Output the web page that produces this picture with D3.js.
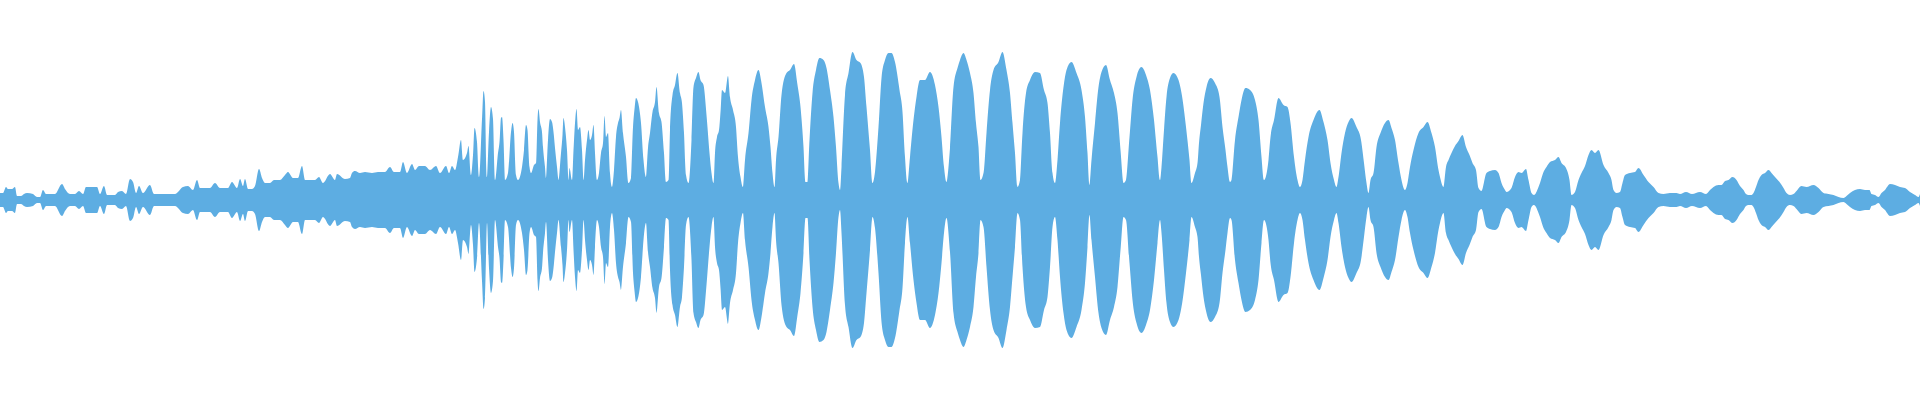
<!DOCTYPE html>
<html>
<head>
<meta charset="utf-8">
<script src="https://cdn.jsdelivr.net/npm/d3@7"></script>
<style>
  body { margin: 0; background: #fff; }
</style>
</head>
<body>
<svg id="svg" width="1920" height="400"></svg>
<script>
// waveform peak envelope
// frames = position along the clip (0..1920), peaks = peak level in % of full scale
var frames = [
  0, 3, 6, 8, 12, 15, 17, 21, 24, 27, 33, 37, 40, 43, 46, 55, 62, 65, 70, 75, 79, 83, 86, 93, 97, 100,
  104, 107, 115, 118, 122, 126, 130, 133, 136, 139, 143, 150, 154, 170, 175, 183, 188, 193, 197, 200,
  210, 215, 220, 228, 232, 237, 240, 243, 245, 248, 252, 255, 259, 262, 265, 270, 274, 280, 285, 288,
  293, 298, 302, 305, 310, 315, 319, 323, 330, 335, 337, 345, 350, 352, 355, 360, 365, 372, 378, 385,
  390, 394, 400, 403, 407, 412, 415, 419, 425, 430, 436, 440, 446, 449, 452, 455,
  458, 461, 463, 467, 468.5, 471, 473, 474.5, 477, 479, 482, 483.5, 485, 487, 489, 491, 493, 495,
  498, 499.5, 501, 502, 503.5, 505, 508, 511, 512.5, 514, 516, 518, 522, 524, 526, 527.5, 529.5, 531,
  534, 536, 537.5, 538.5, 540, 542, 543, 545, 546, 548, 550, 552, 553.5, 555, 557, 558.5,
  561, 562.5, 563.5, 565, 567, 568.5, 569.5, 572, 573.5, 575, 576.5, 578, 580, 582, 583.5,
  585, 587, 588.5, 590, 592, 593.5, 595, 597, 599, 601, 603, 604.5, 606, 608, 610, 612,
  614, 616, 618, 619.5, 621, 623, 626, 628.5, 631, 633, 634.5, 636, 638, 639.5, 641, 643.5, 646,
  648, 650, 652.5, 655, 656.5, 659, 661.5, 664, 666, 668.5, 670, 672.5, 675, 677.5, 680, 682, 684, 686, 688.5,
  691.5, 693.5, 696, 698.5, 700.5, 703.5, 706.5, 709.5, 711.5, 713.5,
  715, 717, 719, 720.5, 722, 725, 728, 730, 733, 736, 738, 740.5, 743,
  745, 748.5, 751.5, 755, 758.5, 761.5, 765, 768.5, 770.5, 772.5, 774.5,
  776, 778.5, 781.5, 786.5, 790, 794, 797.5, 800.5, 803.5, 805.5, 807.5,
  809.5, 812.5, 816, 819.5, 823.5, 826.5, 830, 833.5, 836, 838.5, 840,
  841.5, 845, 848.5, 852.5, 856.5, 860.5, 864, 866.5, 870, 872.5,
  875, 878.5, 881.5, 885, 888.5, 891.5, 895, 899.5, 902.5, 905, 907.5,
  910, 913.5, 916.5, 920, 925, 930, 935, 938.5, 941.5, 944, 946.5,
  950, 953.5, 957.5, 960, 963.5, 966.5, 970, 973.5, 976, 978.5, 980.5,
  983.5, 986.5, 990, 993.5, 998.5, 1002.5, 1006.5, 1010, 1012.5, 1015, 1017.5,
  1020, 1022.5, 1026, 1030, 1035, 1040, 1044, 1047.5, 1050, 1052.5, 1055,
  1057.5, 1060, 1063.5, 1066.5, 1071.5, 1076.5, 1081.5, 1085, 1087.5, 1089.5,
  1091.5, 1095, 1098.5, 1101.5, 1106, 1110, 1114, 1117.5, 1120.5, 1123.5,
  1126, 1129.5, 1132.5, 1136.5, 1141.5, 1146, 1150, 1154, 1157.5, 1160,
  1161.5, 1164, 1166.5, 1170, 1173.5, 1178.5, 1181.5, 1186, 1189.5, 1191.5,
  1195, 1197.5, 1199, 1201, 1203.5, 1206.5, 1210.5, 1215, 1219.5, 1222.5, 1225.5, 1227.5, 1230,
  1231.5, 1235, 1238.5, 1241.5, 1245.5, 1250, 1255, 1258.5, 1261.5, 1264,
  1268.5, 1270.5, 1274, 1278.5, 1283.5, 1287.5, 1290.5, 1294, 1297.5, 1300,
  1302.5, 1305, 1308.5, 1313.5, 1319.5, 1323.5, 1327.5, 1330.5, 1334, 1336.5,
  1338.5, 1341.5, 1345, 1348.5, 1351.5, 1356.5, 1361, 1364, 1366.5, 1368.5,
  1370.5, 1373.5, 1376.5, 1380.5, 1385, 1388.5, 1391.5, 1395, 1398.5, 1401.5, 1405,
  1407.5, 1410, 1413.5, 1418.5, 1423.5, 1427.5, 1431.5, 1435, 1438.5, 1440, 1443.5,
  1446, 1448.5, 1451.5, 1455, 1458.5, 1462.5, 1466, 1469.5, 1472.5, 1476, 1478.5, 1481.5,
  1486.5, 1490, 1495, 1498.5, 1501.5, 1505, 1506.5,
  1511.5, 1515, 1518.5, 1521.5, 1526, 1528.5, 1531.5, 1534, 1538.5,
  1540, 1543.5, 1546.5, 1550, 1555, 1558.5, 1561.5, 1566, 1569.5, 1571.5, 1575,
  1578.5, 1581.5, 1585, 1588.5, 1591.5, 1595, 1598.5, 1603.5, 1608.5, 1611.5, 1613.5, 1616.5, 1620,
  1622.5, 1625, 1630, 1635, 1638.5, 1643.5, 1648.5, 1653.5, 1658.5, 1663.5, 1670, 1676.5,
  1680, 1686, 1692, 1700, 1706,
  1710, 1713.5, 1718.5, 1721.5, 1725, 1728.5, 1732.5, 1736.5, 1740, 1743.5, 1746, 1748.5, 1751.5,
  1754, 1756, 1758.5, 1761.5, 1765, 1768.5, 1771.5, 1775, 1779.5, 1783.5, 1786.5, 1790,
  1793.5, 1796.5, 1801.5, 1806.5, 1813.5, 1818.5, 1823.5, 1828.5, 1833.5, 1838.5, 1843.5,
  1846.5, 1850, 1855, 1860, 1865, 1869.5, 1871.5, 1875, 1878.5,
  1881.5, 1885, 1890, 1895, 1900, 1905, 1910, 1915, 1918.5, 1920
];

var peaks = [
  3.5, 3.5, 6.5, 5.5, 5.5, 6.5, 2, 2, 3, 3.5, 3, 1.5, 1.5, 5, 3, 3, 8, 5.5, 3, 3, 4.5, 3, 6.5, 6.5, 6.5, 3,
  7, 2.5, 2.5, 4, 4.5, 3, 10.5, 9, 3.5, 7, 3.5, 7.5, 3, 3, 3, 6.5, 7, 5, 10, 6,
  6, 8.5, 6, 6, 9, 6, 10.5, 7, 10.5, 5.5, 5.5, 7, 15.5, 11, 8.5, 8.5, 10, 10, 12.5, 14,
  11, 11, 17, 10, 10, 10, 11.5, 8.5, 13, 10, 13, 10.5, 11, 13.5, 14.5, 13.5, 14, 13.5, 14, 14,
  16.5, 14, 14, 19, 13.5, 18, 15, 17, 17, 15, 17, 13.5, 17, 13.5, 17, 15,
  21.5, 30, 20, 23.5, 27, 12.5, 22.5, 36, 29, 11.5, 40.5, 54.5, 49, 11.5, 34, 46.5, 40.5, 10,
  23.5, 29, 41, 41.5, 30, 10, 13.5, 34, 38.5, 34, 12.5, 10, 16.5, 25, 37.5, 35, 16.5, 13.5,
  17.5, 18.5, 40, 45.5, 39, 34, 26.5, 16.5, 11, 30, 40.5, 39, 34, 26, 16.5, 10,
  23.5, 32.5, 41, 36.5, 25, 10, 16, 10, 25, 38.5, 45.5, 35, 36.5, 25, 10,
  20, 30, 35, 30, 32.5, 37.5, 23.5, 10, 13.5, 23.5, 28.5, 42, 31.5, 33.5, 13.5, 6.5,
  15, 31.5, 38.5, 41, 45, 33.5, 21.5, 8.5, 11, 36.5, 45.5, 51, 49, 45, 38.5, 20, 11.5,
  26, 33.5, 44, 49, 56.5, 43.5, 39, 23.5, 9, 10, 35, 52.5, 57.5, 63.5, 53.5, 48.5, 33.5, 12.5, 8.5,
  30, 56.5, 61, 64, 60, 57.5, 42.5, 23.5, 13.5, 8.5,
  23.5, 31.5, 35, 44, 55, 53.5, 62, 51.5, 45, 36.5, 21.5, 11.5, 6.5,
  20, 33.5, 50, 60, 65, 58.5, 46.5, 36.5, 26.5, 13.5, 6.5,
  20, 31.5, 52.5, 63.5, 65, 68, 57.5, 46.5, 26.5, 9, 9,
  30, 53.5, 65, 71, 70, 66, 55, 41.5, 26.5, 8.5, 5,
  16.5, 52.5, 63.5, 74, 70, 68.5, 61.5, 46.5, 25, 8.5,
  14, 36.5, 61, 70, 73.5, 73.5, 69, 55, 44, 21.5, 8.5,
  21.5, 40, 51.5, 60, 60, 64, 57.5, 46.5, 31.5, 16.5, 9,
  26, 56.5, 66, 70, 73.5, 70, 63.5, 53.5, 38.5, 26.5, 10,
  13.5, 33.5, 55, 65, 69, 74, 65, 53.5, 38.5, 23.5, 6.5,
  10, 33.5, 53.5, 60, 64, 63.5, 55, 48.5, 33.5, 13.5, 8.5,
  20, 38.5, 56.5, 65, 69, 63.5, 55, 41.5, 23.5, 7.5,
  20, 38.5, 56.5, 64, 67.5, 60, 53.5, 43.5, 25, 8.5,
  10, 31.5, 50, 61.5, 66.5, 62.5, 55, 40, 21.5, 10,
  16.5, 35, 51.5, 61, 63.5, 60, 53.5, 36.5, 20, 8.5,
  13.5, 18.5, 28.5, 37.5, 48.5, 56.5, 61, 58.5, 51.5, 36.5, 25, 16.5, 9,
  10, 30, 41.5, 50, 56, 55, 50, 40, 21.5, 10,
  20, 31.5, 40, 51, 47.5, 46.5, 38.5, 21.5, 10, 6.5,
  10, 20, 31.5, 40, 45, 39, 30, 18.5, 10, 6.5,
  11.5, 23.5, 33.5, 39, 41, 36.5, 30, 18.5, 8.5, 3.5,
  10, 13.5, 26.5, 33.5, 38.5, 40, 36, 30, 18.5, 10, 5,
  8.5, 16.5, 25, 33.5, 36.5, 39, 33.5, 26.5, 15, 11.5, 6.5,
  16.5, 20, 23.5, 27, 29.5, 32.5, 26.5, 22.5, 18.5, 15, 6, 4.5,
  13.5, 14.5, 15, 13.5, 8.5, 5, 4,
  6, 11.5, 14, 13.5, 15.5, 10, 3.5, 2.5, 6.5,
  8.5, 14, 16.5, 19, 20, 21.5, 18.5, 16, 10, 2.5, 4,
  10, 13.5, 17, 22.5, 25, 23.5, 25, 17.5, 13.5, 10, 5, 3.5, 4,
  8.5, 12.5, 13.5, 14, 16, 12.5, 9, 6.5, 3.5, 3, 3.5, 3.5,
  3, 4, 3, 4, 3,
  5, 6.5, 7.5, 7.5, 9.5, 10, 11.5, 10, 7, 5, 3, 2.5, 2.5,
  4, 6.5, 10, 12.5, 13.5, 15, 13.5, 11.5, 9, 6, 3.5, 2.5,
  3, 4.5, 7, 6.5, 7.5, 6, 3.5, 3, 2.5, 1.5, 1,
  2, 3.5, 5, 5.5, 5, 5, 3, 2.5, 1.5,
  3.5, 5, 8, 7.5, 6.5, 6, 4, 2.5, 1.5, 3
];

var svg = d3.select("#svg"),
    width = +svg.attr("width"),
    height = +svg.attr("height");

var x = d3.scaleLinear()
    .domain([0, 1920])
    .range([0, width]);

var y = d3.scaleLinear()
    .domain([-100, 100])
    .range([height, 0]);

// mirrored envelope: +peak on top, -peak below the centre line
var wave = d3.area()
    .x(function(d, i) { return x(frames[i]); })
    .y0(function(d) { return y(-d); })
    .y1(function(d) { return y(d); })
    .curve(d3.curveMonotoneX);

svg.append("path")
    .datum(peaks)
    .attr("class", "wave")
    .attr("fill", "#5dade2")
    .attr("d", wave);
</script>
</body>
</html>
